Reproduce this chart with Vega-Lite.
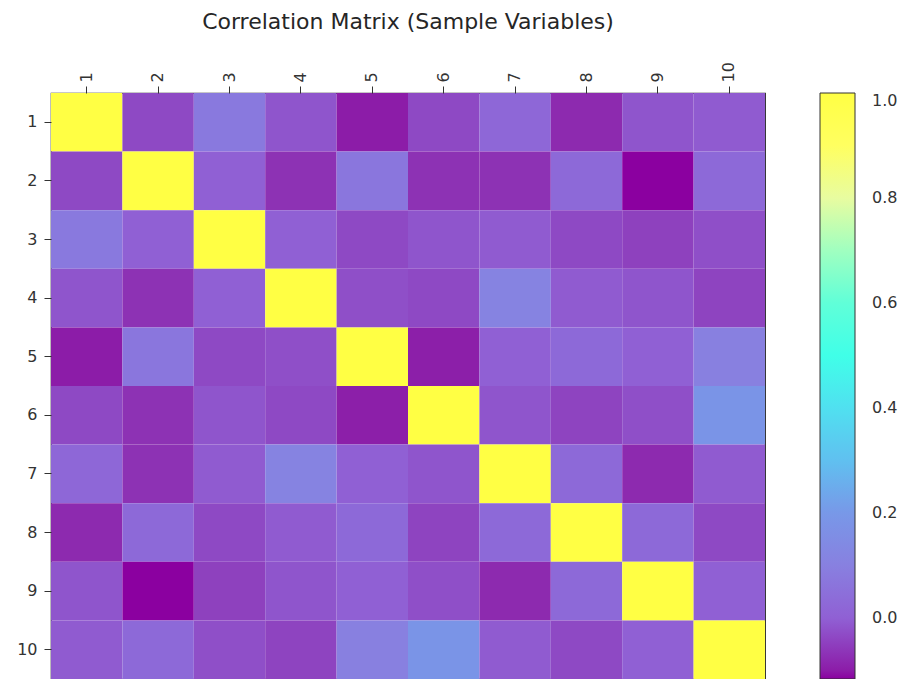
{
  "$schema": "https://vega.github.io/schema/vega-lite/v6.json",
  "autosize": {"type": "none"},
  "padding": {"left": 51, "top": 93, "right": 136, "bottom": 0},
  "width": 714,
  "height": 586,
  "title": {"text": "Correlation Matrix (Sample Variables)", "font": "DejaVu Sans", "fontSize": 22, "fontWeight": "normal", "color": "#262626", "anchor": "middle", "offset": 28},
  "datasets": {
    "corr": [
      {"row": 1, "col": 1, "r": 1}, {"row": 1, "col": 2, "r": -0.04}, {"row": 1, "col": 3, "r": 0.075}, {"row": 1, "col": 4, "r": -0.02}, {"row": 1, "col": 5, "r": -0.1}, {"row": 1, "col": 6, "r": -0.04}, {"row": 1, "col": 7, "r": 0.02}, {"row": 1, "col": 8, "r": -0.085}, {"row": 1, "col": 9, "r": -0.02}, {"row": 1, "col": 10, "r": -0.01},
      {"row": 2, "col": 1, "r": -0.04}, {"row": 2, "col": 2, "r": 1}, {"row": 2, "col": 3, "r": 0.0}, {"row": 2, "col": 4, "r": -0.075}, {"row": 2, "col": 5, "r": 0.065}, {"row": 2, "col": 6, "r": -0.075}, {"row": 2, "col": 7, "r": -0.075}, {"row": 2, "col": 8, "r": 0.025}, {"row": 2, "col": 9, "r": -0.116}, {"row": 2, "col": 10, "r": 0.025},
      {"row": 3, "col": 1, "r": 0.075}, {"row": 3, "col": 2, "r": 0.0}, {"row": 3, "col": 3, "r": 1}, {"row": 3, "col": 4, "r": 0.0}, {"row": 3, "col": 5, "r": -0.04}, {"row": 3, "col": 6, "r": -0.02}, {"row": 3, "col": 7, "r": -0.01}, {"row": 3, "col": 8, "r": -0.04}, {"row": 3, "col": 9, "r": -0.053}, {"row": 3, "col": 10, "r": -0.03},
      {"row": 4, "col": 1, "r": -0.02}, {"row": 4, "col": 2, "r": -0.075}, {"row": 4, "col": 3, "r": 0.0}, {"row": 4, "col": 4, "r": 1}, {"row": 4, "col": 5, "r": -0.03}, {"row": 4, "col": 6, "r": -0.04}, {"row": 4, "col": 7, "r": 0.11}, {"row": 4, "col": 8, "r": -0.01}, {"row": 4, "col": 9, "r": -0.02}, {"row": 4, "col": 10, "r": -0.048},
      {"row": 5, "col": 1, "r": -0.1}, {"row": 5, "col": 2, "r": 0.065}, {"row": 5, "col": 3, "r": -0.04}, {"row": 5, "col": 4, "r": -0.03}, {"row": 5, "col": 5, "r": 1}, {"row": 5, "col": 6, "r": -0.097}, {"row": 5, "col": 7, "r": 0.0}, {"row": 5, "col": 8, "r": 0.025}, {"row": 5, "col": 9, "r": 0.0}, {"row": 5, "col": 10, "r": 0.1},
      {"row": 6, "col": 1, "r": -0.04}, {"row": 6, "col": 2, "r": -0.075}, {"row": 6, "col": 3, "r": -0.02}, {"row": 6, "col": 4, "r": -0.04}, {"row": 6, "col": 5, "r": -0.097}, {"row": 6, "col": 6, "r": 1}, {"row": 6, "col": 7, "r": -0.02}, {"row": 6, "col": 8, "r": -0.048}, {"row": 6, "col": 9, "r": -0.03}, {"row": 6, "col": 10, "r": 0.18},
      {"row": 7, "col": 1, "r": 0.02}, {"row": 7, "col": 2, "r": -0.075}, {"row": 7, "col": 3, "r": -0.01}, {"row": 7, "col": 4, "r": 0.11}, {"row": 7, "col": 5, "r": 0.0}, {"row": 7, "col": 6, "r": -0.02}, {"row": 7, "col": 7, "r": 1}, {"row": 7, "col": 8, "r": 0.025}, {"row": 7, "col": 9, "r": -0.085}, {"row": 7, "col": 10, "r": -0.01},
      {"row": 8, "col": 1, "r": -0.085}, {"row": 8, "col": 2, "r": 0.025}, {"row": 8, "col": 3, "r": -0.04}, {"row": 8, "col": 4, "r": -0.01}, {"row": 8, "col": 5, "r": 0.025}, {"row": 8, "col": 6, "r": -0.048}, {"row": 8, "col": 7, "r": 0.025}, {"row": 8, "col": 8, "r": 1}, {"row": 8, "col": 9, "r": 0.025}, {"row": 8, "col": 10, "r": -0.04},
      {"row": 9, "col": 1, "r": -0.02}, {"row": 9, "col": 2, "r": -0.116}, {"row": 9, "col": 3, "r": -0.053}, {"row": 9, "col": 4, "r": -0.02}, {"row": 9, "col": 5, "r": 0.0}, {"row": 9, "col": 6, "r": -0.03}, {"row": 9, "col": 7, "r": -0.085}, {"row": 9, "col": 8, "r": 0.025}, {"row": 9, "col": 9, "r": 1}, {"row": 9, "col": 10, "r": 0.0},
      {"row": 10, "col": 1, "r": -0.01}, {"row": 10, "col": 2, "r": 0.025}, {"row": 10, "col": 3, "r": -0.03}, {"row": 10, "col": 4, "r": -0.048}, {"row": 10, "col": 5, "r": 0.1}, {"row": 10, "col": 6, "r": 0.18}, {"row": 10, "col": 7, "r": -0.01}, {"row": 10, "col": 8, "r": -0.04}, {"row": 10, "col": 9, "r": 0.0}, {"row": 10, "col": 10, "r": 1}
    ]
  },
  "data": {"name": "corr"},
  "mark": {"type": "rect"},
  "encoding": {
    "x": {"field": "col", "type": "ordinal", "scale": {"paddingInner": 0, "paddingOuter": 0},
      "axis": {"orient": "top", "title": null, "labelAngle": 270, "domain": false, "tickSize": 7, "tickColor": "#333", "labelColor": "#333", "labelFontSize": 16, "labelFont": "DejaVu Sans", "labelPadding": 4}},
    "y": {"field": "row", "type": "ordinal", "scale": {"paddingInner": 0, "paddingOuter": 0},
      "axis": {"title": null, "domain": false, "tickSize": 7, "tickColor": "#333", "labelColor": "#333", "labelFontSize": 16, "labelFont": "DejaVu Sans", "labelPadding": 7}},
    "color": {"field": "r", "type": "quantitative",
      "scale": {"type": "linear",
        "domain": [-0.116, 0.0, 0.1, 0.2, 0.3, 0.4, 0.5, 0.6, 0.7, 0.8, 0.9, 1.0],
        "range": ["#8b00a0", "#9060d4", "#8880e0", "#7898e8", "#60c0f0", "#50e0f0", "#40ffe8", "#60ffd8", "#a0ffc0", "#e8fca0", "#ffff60", "#ffff44"]},
      "legend": {"orient": "none", "legendX": 769, "legendY": 0, "direction": "vertical", "title": null,
        "gradientLength": 586, "gradientThickness": 35, "gradientStrokeColor": "#333", "gradientStrokeWidth": 1,
        "values": [0, 0.2, 0.4, 0.6, 0.8, 1.0], "format": ".1f", "labelFontSize": 16, "labelFont": "DejaVu Sans", "labelColor": "#333", "labelOffset": 17, "labelBaseline": "middle", "labelOverlap": false}}
  },
  "config": {"view": {"stroke": "#222", "strokeWidth": 1.2}, "background": "white"}
}
